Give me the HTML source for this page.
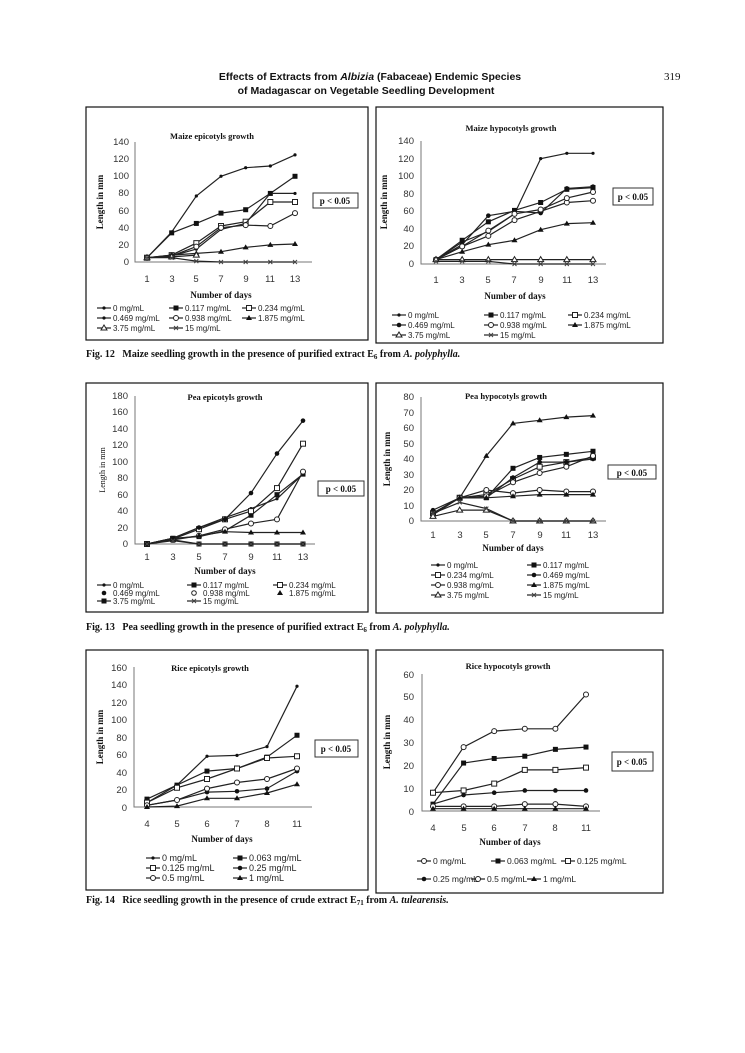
<!DOCTYPE html>
<html><head><meta charset="utf-8"><style>
body{margin:0;background:#fff}
svg{display:block}
.t{font-family:"Liberation Sans",sans-serif;font-size:9.5px;fill:#333}
.ys{text-anchor:end}
.xs{text-anchor:middle}
.h{font-family:"Liberation Serif",serif;font-weight:bold;fill:#111}
.lg{font-family:"Liberation Sans",sans-serif;font-size:8px;fill:#222}
.cap{font-family:"Liberation Serif",serif;font-weight:bold;font-size:10px;fill:#111}
</style></head><body>
<svg id="s" width="745" height="1053" viewBox="0 0 745 1053" xmlns="http://www.w3.org/2000/svg">
<rect width="745" height="1053" fill="#fff"/>
<text x="370" y="80" text-anchor="middle" font-family="Liberation Sans,sans-serif" font-weight="bold" font-size="10.5" fill="#111">Effects of Extracts from <tspan font-style="italic">Albizia</tspan> (Fabaceae) Endemic Species</text>
<text x="366" y="94" text-anchor="middle" font-family="Liberation Sans,sans-serif" font-weight="bold" font-size="10.5" fill="#111">of Madagascar on Vegetable Seedling Development</text>
<text x="664" y="80" font-family="Liberation Serif,serif" font-size="11" fill="#111">319</text>

<g fill="none" stroke="#111" stroke-width="1.2">
<rect x="86" y="107" width="282" height="233"/>
<rect x="376" y="107" width="287" height="236"/>
<rect x="86" y="383" width="282" height="229"/>
<rect x="376" y="383" width="287" height="230"/>
<rect x="86" y="650" width="282" height="240"/>
<rect x="376" y="650" width="287" height="243"/>
</g>
<g fill="#fff" stroke="#333" stroke-width="1">
<rect x="313" y="193" width="45" height="15"/>
<rect x="613" y="188" width="40" height="17"/>
<rect x="318" y="481" width="46" height="15"/>
<rect x="608" y="465" width="48" height="14"/>
<rect x="315" y="740" width="43" height="17"/>
<rect x="612" y="752" width="41" height="19"/>
</g>
<g class="h" font-size="9">
<text x="335" y="204" text-anchor="middle">p &lt; 0.05</text>
<text x="633" y="200" text-anchor="middle">p &lt; 0.05</text>
<text x="341" y="492" text-anchor="middle">p &lt; 0.05</text>
<text x="632" y="476" text-anchor="middle">p &lt; 0.05</text>
<text x="336" y="752" text-anchor="middle">p &lt; 0.05</text>
<text x="632" y="765" text-anchor="middle">p &lt; 0.05</text>
</g>

<g class="h" font-size="8.5" text-anchor="middle">
<text x="212" y="139">Maize epicotyls growth</text>
<text x="511" y="131">Maize hypocotyls growth</text>
<text x="225" y="400">Pea epicotyls growth</text>
<text x="506" y="399">Pea hypocotyls growth</text>
<text x="210" y="671">Rice epicotyls growth</text>
<text x="508" y="669">Rice hypocotyls growth</text>
</g>
<g class="h" font-size="9" text-anchor="middle">
<text x="221" y="298">Number of days</text>
<text x="515" y="299">Number of days</text>
<text x="225" y="574">Number of days</text>
<text x="513" y="551">Number of days</text>
<text x="222" y="842">Number of days</text>
<text x="510" y="845">Number of days</text>
<text transform="translate(103,202) rotate(-90)">Length in mm</text>
<text transform="translate(387,202) rotate(-90)">Length in mm</text>
<text transform="translate(105,470) rotate(-90)" font-weight="normal" font-size="8">Length in mm</text>
<text transform="translate(390,459) rotate(-90)">Length in mm</text>
<text transform="translate(103,737) rotate(-90)">Length in mm</text>
<text transform="translate(390,742) rotate(-90)">Length in mm</text>
</g>

<g class="t ys"><text x="129" y="265">0</text><text x="129" y="248">20</text><text x="129" y="231">40</text><text x="129" y="214">60</text><text x="129" y="196">80</text><text x="129" y="179">100</text><text x="129" y="162">120</text><text x="129" y="145">140</text></g>
<g class="t xs"><text x="147" y="282">1</text><text x="172" y="282">3</text><text x="196" y="282">5</text><text x="221" y="282">7</text><text x="246" y="282">9</text><text x="270" y="282">11</text><text x="295" y="282">13</text></g>
<g class="t ys"><text x="414" y="267">0</text><text x="414" y="249">20</text><text x="414" y="232">40</text><text x="414" y="214">60</text><text x="414" y="197">80</text><text x="414" y="179">100</text><text x="414" y="162">120</text><text x="414" y="144">140</text></g>
<g class="t xs"><text x="436" y="283">1</text><text x="462" y="283">3</text><text x="488" y="283">5</text><text x="514" y="283">7</text><text x="541" y="283">9</text><text x="567" y="283">11</text><text x="593" y="283">13</text></g>
<g class="t ys" font-size="8.5"><text x="128" y="547">0</text><text x="128" y="531">20</text><text x="128" y="514">40</text><text x="128" y="498">60</text><text x="128" y="481">80</text><text x="128" y="465">100</text><text x="128" y="448">120</text><text x="128" y="432">140</text><text x="128" y="415">160</text><text x="128" y="399">180</text></g>
<g class="t xs" font-size="8.5"><text x="147" y="560">1</text><text x="173" y="560">3</text><text x="199" y="560">5</text><text x="225" y="560">7</text><text x="251" y="560">9</text><text x="277" y="560">11</text><text x="303" y="560">13</text></g>
<g class="t ys" font-size="9"><text x="414" y="524">0</text><text x="414" y="509">10</text><text x="414" y="493">20</text><text x="414" y="478">30</text><text x="414" y="462">40</text><text x="414" y="447">50</text><text x="414" y="431">60</text><text x="414" y="416">70</text><text x="414" y="400">80</text></g>
<g class="t xs" font-size="9"><text x="433" y="538">1</text><text x="460" y="538">3</text><text x="486" y="538">5</text><text x="513" y="538">7</text><text x="540" y="538">9</text><text x="566" y="538">11</text><text x="593" y="538">13</text></g>
<g class="t ys" font-size="10"><text x="127" y="811">0</text><text x="127" y="793">20</text><text x="127" y="776">40</text><text x="127" y="758">60</text><text x="127" y="741">80</text><text x="127" y="723">100</text><text x="127" y="706">120</text><text x="127" y="688">140</text><text x="127" y="671">160</text></g>
<g class="t xs" font-size="10"><text x="147" y="827">4</text><text x="177" y="827">5</text><text x="207" y="827">6</text><text x="237" y="827">7</text><text x="267" y="827">8</text><text x="297" y="827">11</text></g>
<g class="t ys" font-size="10"><text x="414" y="815">0</text><text x="414" y="792">10</text><text x="414" y="769">20</text><text x="414" y="746">30</text><text x="414" y="723">40</text><text x="414" y="700">50</text><text x="414" y="678">60</text></g>
<g class="t xs" font-size="10"><text x="433" y="831">4</text><text x="464" y="831">5</text><text x="494" y="831">6</text><text x="525" y="831">7</text><text x="555" y="831">8</text><text x="586" y="831">11</text></g>

<g class="lg">
<text x="113" y="311">0 mg/mL</text><text x="185" y="311">0.117 mg/mL</text><text x="258" y="311">0.234 mg/mL</text>
<text x="113" y="321">0.469 mg/mL</text><text x="185" y="321">0.938 mg/mL</text><text x="258" y="321">1.875 mg/mL</text>
<text x="113" y="331">3.75 mg/mL</text><text x="185" y="331">15 mg/mL</text>

<text x="408" y="318">0 mg/mL</text><text x="500" y="318">0.117 mg/mL</text><text x="584" y="318">0.234 mg/mL</text>
<text x="408" y="328">0.469 mg/mL</text><text x="500" y="328">0.938 mg/mL</text><text x="584" y="328">1.875 mg/mL</text>
<text x="408" y="338">3.75 mg/mL</text><text x="500" y="338">15 mg/mL</text>

<text x="113" y="588">0 mg/mL</text><text x="203" y="588">0.117 mg/mL</text><text x="289" y="588">0.234 mg/mL</text>
<text x="113" y="596">0.469 mg/mL</text><text x="203" y="596">0.938 mg/mL</text><text x="289" y="596">1.875 mg/mL</text>
<text x="113" y="604">3.75 mg/mL</text><text x="203" y="604">15 mg/mL</text>

<text x="447" y="568">0 mg/mL</text><text x="543" y="568">0.117 mg/mL</text>
<text x="447" y="578">0.234 mg/mL</text><text x="543" y="578">0.469 mg/mL</text>
<text x="447" y="588">0.938 mg/mL</text><text x="543" y="588">1.875 mg/mL</text>
<text x="447" y="598">3.75 mg/mL</text><text x="543" y="598">15 mg/mL</text>

<text x="162" y="861" font-size="9">0 mg/mL</text><text x="249" y="861" font-size="9">0.063 mg/mL</text>
<text x="162" y="871" font-size="9">0.125 mg/mL</text><text x="249" y="871" font-size="9">0.25 mg/mL</text>
<text x="162" y="881" font-size="9">0.5 mg/mL</text><text x="249" y="881" font-size="9">1 mg/mL</text>

<text x="433" y="864" font-size="8.5">0 mg/mL</text><text x="507" y="864" font-size="8.5">0.063 mg/mL</text><text x="577" y="864" font-size="8.5">0.125 mg/mL</text>
<text x="433" y="882" font-size="8.5">0.25 mg/mL</text><text x="487" y="882" font-size="8.5">0.5 mg/mL</text><text x="543" y="882" font-size="8.5">1 mg/mL</text>
</g>

<text class="cap" x="86" y="357">Fig. 12&#160;&#160;&#160;Maize seedling growth in the presence of purified extract E<tspan font-size="7" dy="2">6</tspan><tspan dy="-2"> from </tspan><tspan font-style="italic">A. polyphylla.</tspan></text>
<text class="cap" x="86" y="630">Fig. 13&#160;&#160;&#160;Pea seedling growth in the presence of purified extract E<tspan font-size="7" dy="2">6</tspan><tspan dy="-2"> from </tspan><tspan font-style="italic">A. polyphylla.</tspan></text>
<text class="cap" x="86" y="903">Fig. 14&#160;&#160;&#160;Rice seedling growth in the presence of crude extract E<tspan font-size="7" dy="2">71</tspan><tspan dy="-2"> from </tspan><tspan font-style="italic">A. tulearensis.</tspan></text>
<g id="plots"></g>
</svg>
<script>
(function(){
var g=document.getElementById('plots'),h='';
function mark(mk,x,y){
 if(mk=='s')h+='<rect x="'+(x-2.5)+'" y="'+(y-2.5)+'" width="5" height="5" fill="#111"/>';
 else if(mk=='os')h+='<rect x="'+(x-2.5)+'" y="'+(y-2.5)+'" width="5" height="5" fill="#fff" stroke="#222"/>';
 else if(mk=='c')h+='<circle cx="'+x+'" cy="'+y+'" r="2.3" fill="#111"/>';
 else if(mk=='oc')h+='<circle cx="'+x+'" cy="'+y+'" r="2.5" fill="#fff" stroke="#222"/>';
 else if(mk=='t')h+='<path d="M'+x+' '+(y-3)+'l3 5h-6z" fill="#111"/>';
 else if(mk=='ot')h+='<path d="M'+x+' '+(y-3)+'l3 5h-6z" fill="#fff" stroke="#222"/>';
 else if(mk=='x')h+='<path d="M'+(x-2)+' '+(y-2)+'l4 4m0 -4l-4 4" stroke="#444"/>';
 else h+='<circle cx="'+x+'" cy="'+y+'" r="1.6" fill="#111"/>';
}
function chart(ax,ayTop,ay0,ax1,x0,x1,ymax,n,series){
 h+='<path d="M'+ax+' '+ayTop+'V'+ay0+'H'+ax1+'" stroke="#777" stroke-width="1" fill="none"/>';
 var st=(x1-x0)/(n-1);
 series.forEach(function(s){
  var d=s.v,pts=[];
  for(var i=0;i<d.length;i++){pts.push([x0+i*st,ay0-(ay0-ayTop)*d[i]/ymax]);}
  h+='<polyline points="'+pts.map(function(p){return p[0].toFixed(1)+','+p[1].toFixed(1)}).join(' ')+'" fill="none" stroke="#222" stroke-width="1.2"/>';
  pts.forEach(function(p){mark(s.m,p[0],p[1]);});
 });
}
function leg(items){items.forEach(function(it){
 h+='<path d="M'+it[0]+' '+it[1]+'h14" stroke="#222" stroke-width="1.2"/>';mark(it[2],it[0]+7,it[1]);});}
chart(135,142,262,312,147,295,140,7,[
 {v:[5,35,77,100,110,112,125],m:'d'},{v:[5,34,45,57,61,80,100],m:'s'},{v:[5,8,22,42,47,70,70],m:'os'},
 {v:[5,7,15,38,45,80,80],m:'d'},{v:[5,7,18,40,43,42,57],m:'oc'},{v:[5,8,10,12,17,20,21],m:'t'},
 {v:[5,6,8],m:'ot'},{v:[5,5,1,0,0,0,0],m:'x'}]);
chart(421,141,264,606,436,593,140,7,[
 {v:[5,25,37,57,120,126,126],m:'d'},{v:[5,27,48,61,70,85,87],m:'s'},{v:[5,20,32,50,60,70,72],m:'oc'},
 {v:[5,22,55,60,58,86,88],m:'c'},{v:[5,20,38,57,62,75,82],m:'oc'},{v:[5,14,22,27,39,46,47],m:'t'},
 {v:[5,5,5,5,5,5,5],m:'ot'},{v:[3,3,3,0,0,0,0],m:'x'}]);
chart(135,396,544,315,147,303,180,7,[
 {v:[0,7,20,32,43,55,85],m:'d'},{v:[0,7,9,16,35,60,85],m:'s'},{v:[0,6,18,30,40,68,122],m:'os'},
 {v:[0,7,20,30,62,110,150],m:'c'},{v:[0,5,10,18,25,30,88],m:'oc'},{v:[0,6,10,15,14,14,14],m:'t'},
 {v:[0,5,0,0,0,0,0],m:'s'},{v:[0,4,0,0,0,0,0],m:'x'}]);
chart(421,397,521,606,433,593,80,7,[
 {v:[5,15,42,63,65,67,68],m:'t'},{v:[5,15,15,34,41,43,45],m:'s'},{v:[5,15,17,27,35,38,41],m:'os'},
 {v:[7,15,15,28,38,38,40],m:'c'},{v:[4,15,16,25,31,35,42],m:'oc'},{v:[5,15,20,18,20,19,19],m:'oc'},
 {v:[5,15,15,16,17,17,17],m:'t'},{v:[3,7,7,0,0,0,0],m:'ot'},{v:[5,12,8,0,0,0,0],m:'x'}]);
chart(134,667,807,312,147,297,160,6,[
 {v:[5,25,58,59,69,138],m:'d'},{v:[9,25,41,44,57,82],m:'s'},{v:[5,22,32,44,56,58],m:'os'},
 {v:[2,8,17,18,21,41],m:'c'},{v:[2,8,21,28,32,44],m:'oc'},{v:[0,1,10,10,16,26],m:'t'}]);
chart(422,674,811,600,433,586,60,6,[
 {v:[8,28,35,36,36,51],m:'oc'},{v:[3,21,23,24,27,28],m:'s'},{v:[8,9,12,18,18,19],m:'os'},
 {v:[3,7,8,9,9,9],m:'c'},{v:[2,2,2,3,3,2],m:'oc'},{v:[1,1,1,1,1,1],m:'t'}]);
leg([[97,308,'d'],[169,308,'s'],[242,308,'os'],[97,318,'d'],[169,318,'oc'],[242,318,'t'],[97,328,'ot'],[169,328,'x'],
 [392,315,'d'],[484,315,'s'],[568,315,'os'],[392,325,'c'],[484,325,'oc'],[568,325,'t'],[392,335,'ot'],[484,335,'x'],
 [97,585,'d'],[187,585,'s'],[273,585,'os'],[97,601,'s'],[187,601,'x'],
 [431,565,'d'],[527,565,'s'],[431,575,'os'],[527,575,'c'],[431,585,'oc'],[527,585,'t'],[431,595,'ot'],[527,595,'x'],
 [146,858,'d'],[233,858,'s'],[146,868,'os'],[233,868,'c'],[146,878,'oc'],[233,878,'t'],
 [417,861,'oc'],[491,861,'s'],[561,861,'os'],[417,879,'c'],[471,879,'oc'],[527,879,'t']]);
h+='<circle cx="104" cy="593" r="2.3" fill="#111"/><circle cx="194" cy="593" r="2.3" fill="#fff" stroke="#222"/><path d="M280 590l3 5h-6z" fill="#111"/>';
g.innerHTML=h;
})();
</script>
</body></html>
